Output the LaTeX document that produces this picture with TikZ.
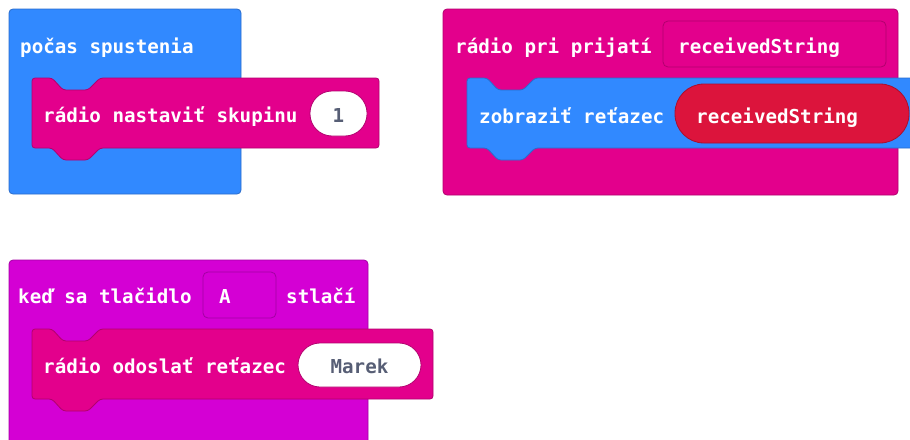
\documentclass[tikz,border=0pt]{standalone}
\usepackage{fontspec}
\newfontfamily\blockfont{DejaVu Sans Mono}
\definecolor{mcblue}{HTML}{3189FF}
\definecolor{mcblueD}{HTML}{2A6CCB}
\definecolor{mcradio}{HTML}{E3008C}
\definecolor{mcradioD}{HTML}{B2006E}
\definecolor{mcinput}{HTML}{D400D4}
\definecolor{mcinputD}{HTML}{A300A3}
\definecolor{mcvar}{HTML}{DC143C}
\definecolor{mcvarD}{HTML}{A80F2E}
\definecolor{pilltext}{HTML}{575E75}
\tikzset{
  blk/.style={line width=0.8pt, rounded corners=4pt},
  field/.style={line width=0.8pt, rounded corners=5pt},
  pill/.style={line width=0.8pt, rounded corners=22pt},
  txt/.style={anchor=base west, inner sep=0pt, text=white, font=\blockfont\bfseries\fontsize{19.2}{20}\selectfont},
  ctxt/.style={anchor=base, inner sep=0pt, text=pilltext, font=\blockfont\bfseries\fontsize{19.2}{20}\selectfont},
}
\newcommand\stmtblock[6]{%
  \filldraw[fill=#5, draw=#6, line width=0.8pt, rounded corners=3pt]
  (#1,#2) -- ({#1+20},#2) -- ({#1+31},{#2+12}) -- ({#1+56},{#2+12}) -- ({#1+68},#2)
  -- (#3,#2) -- (#3,#4) -- ({#1+68},#4) -- ({#1+56},{#4+12}) -- ({#1+31},{#4+12})
  -- ({#1+20},#4) -- (#1,#4) -- cycle;}
\begin{document}
\begin{tikzpicture}[x=1pt,y=-1pt]
\useasboundingbox (0,0) rectangle (910,439);
\clip (0,0) rectangle (910,439);
% ---------- block 1: on start ----------
\filldraw[blk, fill=mcblue, draw=mcblueD] (9,9) rectangle (241,194);
\node[txt] (t1) at (20,53) {počas spustenia};
\stmtblock{32}{78}{379}{148}{mcradio}{mcradioD}
\node[txt] (t2) at (43,122) {rádio nastaviť skupinu};
\filldraw[pill, fill=white, draw=mcradioD] (310,91) rectangle (367,136);
\node[ctxt] (v1) at (338.5,122) {1};
% ---------- block 2: radio on received ----------
\filldraw[blk, fill=mcradio, draw=mcradioD] (443,9) rectangle (898,195);
\node[txt] (t3) at (455,53) {rádio pri prijatí};
\filldraw[field, fill=mcradio, draw=mcradioD] (663,21) rectangle (886,67);
\node[txt] (f1) at (678,53) {receivedString};
\stmtblock{467}{78}{960}{148}{mcblue}{mcblueD}
\node[txt] (t4) at (479,123) {zobraziť reťazec};
\filldraw[pill, rounded corners=29pt, fill=mcvar, draw=mcvarD] (675,84) rectangle (909,143);
\node[txt] (v2) at (696,123) {receivedString};
% ---------- block 3: on button pressed ----------
\filldraw[blk, fill=mcinput, draw=mcinputD] (9,260) rectangle (368,470);
\node[txt] (t5) at (18,303) {keď sa tlačidlo};
\filldraw[field, fill=mcinput, draw=mcinputD] (203,272) rectangle (276,318);
\node[txt] (f2) at (219,303) {A};
\node[txt] (t6) at (286,303) {stlačí};
\stmtblock{32}{329}{433}{399}{mcradio}{mcradioD}
\node[txt] (t7) at (43,373) {rádio odoslať reťazec};
\filldraw[pill, fill=white, draw=mcradioD] (298,343) rectangle (421,387);
\node[ctxt] (v3) at (359.5,373) {Marek};
\end{tikzpicture}
\end{document}
